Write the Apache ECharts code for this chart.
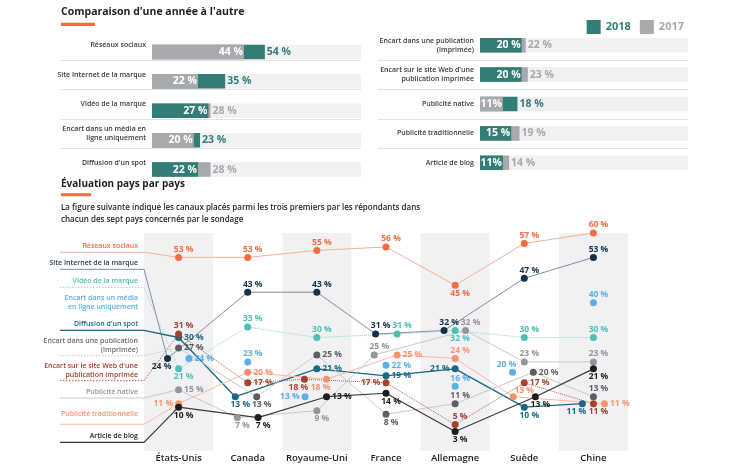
<!DOCTYPE html>
<html><head><meta charset="utf-8">
<script src="https://cdn.jsdelivr.net/npm/echarts@6/dist/echarts.min.js"></script>
<style>html,body{margin:0;padding:0;background:#fff}#c{width:750px;height:466px}</style>
</head><body><div id="c"></div>
<script>
// ---------- Top: year over year ----------
const years = ['2018', '2017'];
const leftCats = ['Réseaux sociaux', 'Site Internet de la marque', 'Vidéo de la marque', 'Encart dans un média en\nligne uniquement', "Diffusion d'un spot"];
const left2018 = [54, 35, 27, 23, 22];
const left2017 = [44, 22, 28, 20, 28];
const rightCats = ['Encart dans une publication\n(imprimée)', "Encart sur le site Web d'une\npublication imprimée", 'Publicité native', 'Publicité traditionnelle', 'Article de blog'];
const right2018 = [20, 20, 18, 15, 11];
const right2017 = [22, 23, 11, 19, 14];

// ---------- Bottom: country by country ----------
const countries = ['États-Unis', 'Canada', 'Royaume-Uni', 'France', 'Allemagne', 'Suède', 'Chine'];
const channels = ['Réseaux sociaux', 'Site Internet de la marque', 'Vidéo de la marque', 'Encart dans un média\nen ligne uniquement', "Diffusion d'un spot", 'Encart dans une publication\n(imprimée)', "Encart sur le site Web d'une\npublication imprimée", 'Publicité native', 'Publicité traditionnelle', 'Article de blog'];
const reseauxSociaux = [53, 53, 55, 56, 45, 57, 60];
const siteInternet   = [24, 43, 43, 31, 32, 47, 53];
const videoMarque    = [21, 33, 30, 31, 32, 30, 30];
const encartMedia    = [24, 23, 13, 22, 16, 20, 40];
const diffusionSpot  = [30, 13, 21, 19, 21, 10, 11];
const encartImprime  = [27, 13, 25, 8, 11, 20, 13];
const encartWeb      = [31, 17, 18, 17, 5, 17, 11];
const pubNative      = [15, 7, 9, 25, 32, 23, 23];
const pubTrad        = [11, 20, 18, 25, 24, 13, 11];
const articleBlog    = [10, 7, 13, 14, 3, 13, 21];
const channelValues = [reseauxSociaux, siteInternet, videoMarque, encartMedia, diffusionSpot, encartImprime, encartWeb, pubNative, pubTrad, articleBlog];

// ---------- styles ----------
const FONT = '"Open Sans", sans-serif';
const TEAL = '#327e76', GREY = '#a7a9ac', TRACK = '#f1f1f3', DARK = '#231f20';
const chStyle = [
  {c:'#f26c3f', lc:'#f6b095', lt:'solid', lw:1, line:true, ly:252.3, ty:245.7},
  {c:'#14304a', lc:'#7f8d9b', lt:'solid', lw:1, line:true, ly:269.3, ty:263.3, tc:'#2c3e50'},
  {c:'#4cc1b0', lc:'#8fd8cd', lt:'dotted', lw:1, line:true, ly:287.3, ty:280.7},
  {c:'#5aafe6', lc:'#5aafe6', lt:'solid', lw:1, line:false, ly:null, ty:302.3},
  {c:'#1b6785', lc:'#1b6785', lt:'solid', lw:1.3, line:true, ly:330.3, ty:323.7},
  {c:'#5d5e61', lc:'#c8c9cb', lt:'solid', lw:1, line:true, ly:355.7, ty:345.7, leaderType:'dotted', tc:'#6d6e71'},
  {c:'#a5412f', lc:'#b75c49', lt:'dotted', lw:1, line:true, ly:380.7, ty:370.3},
  {c:'#939598', lc:'#c8c9cb', lt:'solid', lw:1, line:true, ly:398, ty:391.7},
  {c:'#f5926d', lc:'#f8b9a1', lt:'solid', lw:1, line:true, ly:424.3, ty:414.3},
  {c:'#1e1c1d', lc:'#3a3a3a', lt:'solid', lw:1.2, line:true, ly:442.3, ty:435.7}
];
// horizontal dodge within a country column (category units) – layout only
const nudge = [
  [0,0,0,0,0,0,0],
  [-0.16,0,0,-0.15,-0.16,0,0],
  [0,0,0,0.16,0,0,0],
  [0.15,0,-0.17,0,0,-0.17,0],
  [0,-0.18,0,0,0,0,-0.16],
  [0,0.13,0,0,0,0.13,0],
  [0,0,-0.18,0,0,0,0],
  [0,-0.15,0,-0.17,0.15,0,0],
  [0,0,0.14,0.16,0,-0.16,0.16],
  [0,0.15,0.14,0,0,0.16,0]
];
const labelPos = [
  ['top','top','top','top','bottom','top','top'],
  ['bottomL','top','top','top','top','top','top'],
  ['bottom','top','top','top','bottom','top','top'],
  ['right','top','left','right','top','topL','top'],
  ['right','bottom','right','right','left','bottom','bottomL'],
  ['right','bottom','right','bottom','top','right','top'],
  ['top','right','bottomL','left','top','right','bottom'],
  ['right','bottom','bottom','top','top','top','top'],
  ['left','right','bottomL','right','top','topR','right'],
  ['bottom','bottom','right','bottom','bottom','bottom','bottom']
];
function labelCfg(code) {
  if (code === 'topL') return {position:'top', offset:[-6, 0]};
  if (code === 'topR') return {position:'top', offset:[11, 2]};
  if (code === 'bottomL') return {position:'bottom', offset:[-6, 0]};
  if (code === 'top' || code === 'bottom') return {position:code, offset:[5, 0]};
  return {position:code, distance:2};
}

function barData(v18, v17) {
  const back = [], front = [];
  v18.forEach((a, i) => {
    const b = v17[i];
    const big = a >= b ? {v:a, c:TEAL} : {v:b, c:GREY};
    const small = a >= b ? {v:b, c:GREY} : {v:a, c:TEAL};
    back.push({value: big.v, itemStyle:{color: big.c}, label:{color: big.c}});
    front.push({value: small.v, itemStyle:{color: small.c}});
  });
  return {back, front};
}
const L = barData(left2018, left2017), R = barData(right2018, right2017);

const TOP = 30.5, TH = 147, BW = 14.5;
const catAxisLabel = {fontSize:7, fontWeight:600, color:'#3a3a3a', lineHeight:9, margin:6, fontFamily:FONT};
const backSeries = (xi, data) => ({
  type:'bar', xAxisIndex:xi, yAxisIndex:xi, data, barWidth:BW, barGap:'-100%',
  showBackground:true, backgroundStyle:{color:TRACK},
  label:{show:true, position:'right', distance:2, fontSize:10.5, fontWeight:'bold', fontFamily:FONT, overflow:'none', formatter:p=>p.value+' %'},
  silent:true, animation:false
});
const frontSeries = (xi, data) => ({
  type:'bar', xAxisIndex:xi, yAxisIndex:xi, data, barWidth:BW, barGap:'-100%',
  label:{show:true, position:'insideRight', distance:1, color:'#fff', fontSize:10.5, fontWeight:'bold', fontFamily:FONT, overflow:'none', width:60,
         formatter:p=>p.value < 12 ? p.value+'%' : p.value+' %'},
  labelLayout:{hideOverlap:false},
  silent:true, animation:false
});

const lineSeries = channelValues.map((vals, k) => {
  const s = chStyle[k];
  return {
    type:'line', name:channels[k], xAxisIndex:3, yAxisIndex:2,
    data: vals.map((v, i) => ({value:[i + nudge[k][i], v], label:labelCfg(labelPos[k][i])})),
    symbol:'circle', symbolSize:7, itemStyle:{color:s.c},
    lineStyle: s.line ? {color:s.lc, width:s.lw, type:s.lt} : {width:0, opacity:0},
    label:{show:true, distance:0, color:s.c, fontSize:8.5, lineHeight:9, fontWeight:'bold', fontFamily:FONT, formatter:p=>p.value[1]+' %'},
    clip:false, animation:false, z:3
  };
});

const option = {
  backgroundColor:'#fff',
  textStyle:{fontFamily:FONT},
  legend:{
    data:[{name:'2018', textStyle:{color:TEAL}}, {name:'2017', textStyle:{color:GREY}}],
    right:61, top:15, itemWidth:14, itemHeight:14, itemGap:9, icon:'rect',
    textStyle:{fontSize:11, fontWeight:'bold', fontFamily:FONT}
  },
  grid:[
    {left:152, top:TOP, width:209, height:TH},
    {left:480, top:TOP, width:208, height:TH},
    {left:144, top:233, right:122, bottom:15.3}
  ],
  xAxis:[
    {gridIndex:0, type:'value', min:0, max:100, show:false},
    {gridIndex:1, type:'value', min:0, max:100, show:false},
    {gridIndex:2, type:'category', data:countries, boundaryGap:true,
     axisLine:{show:false}, axisTick:{show:false}, splitLine:{show:false},
     splitArea:{show:true, interval:0, areaStyle:{color:['#f1f1f3','rgba(255,255,255,0)']}},
     axisLabel:{interval:0, fontSize:9.5, fontWeight:600, color:DARK, margin:3, fontFamily:FONT}},
    {gridIndex:2, type:'value', min:-0.5, max:6.5, show:false}
  ],
  yAxis:[
    {gridIndex:0, type:'category', data:leftCats, inverse:true, axisLine:{show:false}, axisTick:{show:false}, axisLabel:catAxisLabel},
    {gridIndex:1, type:'category', data:rightCats, inverse:true, axisLine:{show:false}, axisTick:{show:false}, axisLabel:catAxisLabel},
    {gridIndex:2, type:'value', min:-2.5, max:60, show:false}
  ],
  series:[
    backSeries(0, L.back), frontSeries(0, L.front),
    backSeries(1, R.back), frontSeries(1, R.front),
    {type:'bar', name:years[0], xAxisIndex:0, yAxisIndex:0, data:[], itemStyle:{color:TEAL}},
    {type:'bar', name:years[1], xAxisIndex:0, yAxisIndex:0, data:[], itemStyle:{color:GREY}},
    ...lineSeries
  ]
};

const chart = echarts.init(document.getElementById('c'), null, {renderer:'canvas'});
chart.setOption(option);

// ---------- decorations & texts ----------
const g = [];
const txt = (x, y, text, o) => g.push({type:'text', x, y, silent:true, style:Object.assign({text, fontFamily:FONT, fill:DARK, align:'left', verticalAlign:'middle'}, o)});
txt(61, 12.5, "Comparaison d'une année à l'autre", {fontSize:10.5, fontWeight:'bold'});
g.push({type:'rect', shape:{x:61, y:22.7, width:34, height:3.3}, style:{fill:'#f26c3f'}, silent:true});
txt(61, 184.3, 'Évaluation pays par pays', {fontSize:10, fontWeight:'bold'});
g.push({type:'rect', shape:{x:61, y:193.2, width:30, height:3}, style:{fill:'#f26c3f'}, silent:true});
txt(61, 213.5, 'La figure suivante indique les canaux placés parmi les trois premiers par les répondants dans\nchacun des sept pays concernés par le sondage', {fontSize:8, fontWeight:600, lineHeight:12});
// row separators
const rowH = TH / 5;
for (let k = 1; k < 5; k++) {
  const y = Math.round(TOP + k * rowH) + 0.5;
  g.push({type:'line', shape:{x1:61, y1:y, x2:361, y2:y}, style:{stroke:'#e3e3e5', lineWidth:1}, silent:true});
  g.push({type:'line', shape:{x1:378, y1:y, x2:688, y2:y}, style:{stroke:'#e3e3e5', lineWidth:1}, silent:true});
}
// left-hand legend of the country chart with leader lines
channels.forEach((name, k) => {
  const s = chStyle[k];
  txt(138, s.ty, name, {fontSize:7, fontWeight:600, fill:s.tc || s.c, align:'right', lineHeight:8.5});
  if (s.ly !== null) {
    const p = chart.convertToPixel({seriesIndex: 6 + k}, [0 + nudge[k][0], channelValues[k][0]]);
    g.push({type:'polyline', silent:true, z:1,
      shape:{points:[[60, s.ly], [144, s.ly], p]},
      style:{stroke:s.lc, lineWidth:s.lw, fill:null, lineDash: (s.leaderType || s.lt) === 'dotted' ? [1.5, 1.5] : null}});
  }
});
chart.setOption({graphic:g});
</script>
</body></html>
